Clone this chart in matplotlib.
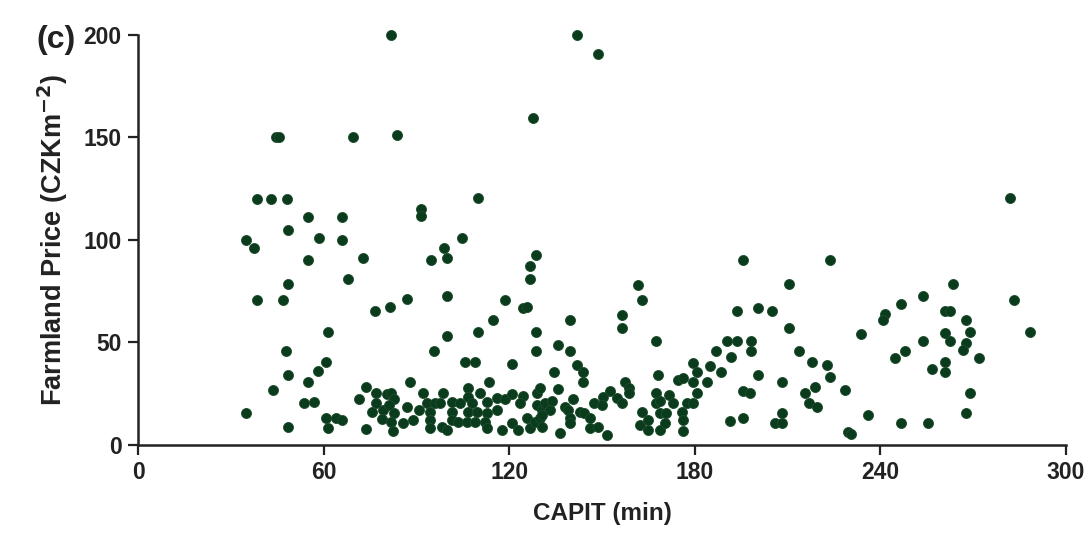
import matplotlib.pyplot as plt

plt.rcParams['font.family'] = ['Liberation Sans', 'DejaVu Sans']

# CAPIT (min) and farmland price
capit = [
    44.5, 45.5, 69.4, 38.3, 42.9, 48.1, 54.8, 65.8, 48.5, 34.8,
    37.4, 58.4, 65.8, 54.8, 72.6, 67.8, 48.5, 38.3, 46.8, 76.6,
    61.4, 47.8, 48.5, 60.6, 58.0, 54.8, 43.6, 53.7, 56.9, 34.8,
    60.6, 63.8, 65.8, 61.4, 48.5, 73.5, 73.5, 71.5,
    81.6, 141.8, 148.6, 127.6, 83.6, 109.8, 91.4, 91.4, 104.6, 98.9,
    94.6, 99.9, 128.7, 126.7, 126.7, 99.9, 81.5, 86.8, 118.6, 124.5,
    125.6, 114.6, 139.6, 99.8, 109.8, 128.7, 95.7, 128.7, 135.7, 139.6,
    105.7, 108.9, 120.9, 141.8, 143.9, 143.9, 134.5, 135.7, 87.9, 113.5,
    140.7,
    76.9, 76.9, 75.5, 80.5, 81.6, 79.2, 82.7, 81.2, 82.7, 78.7,
    81.6, 82.5, 85.7, 88.9, 86.8, 90.9, 92.2,
    98.6, 106.7, 110.5, 106.7, 93.3, 96.0, 97.6, 101.4, 104.0, 107.8,
    112.7, 115.9, 118.6, 120.8, 124.3, 123.5, 128.9, 129.9, 94.3, 94.3,
    94.3, 98.1, 99.7, 101.4, 101.4, 103.5, 106.7, 106.2, 109.5, 112.7,
    108.9, 112.1, 112.7, 115.9, 117.5, 120.8, 122.9, 125.6, 126.7, 128.3,
    129.9, 130.5, 128.9, 130.5,
    157.4, 158.8, 158.8, 152.6, 150.4, 147.4, 149.9, 154.8, 156.4, 168.2,
    167.5, 167.5, 168.8, 131.6, 133.7, 133.2, 130.5, 136.4, 138.0, 139.1,
    139.6, 139.6, 142.9, 144.0, 146.1, 146.1, 148.8, 151.5, 162.8, 162.3,
    165.0, 165.0, 168.8, 168.8,
    179.5, 180.8, 184.9, 188.4, 174.7, 176.3, 179.5, 183.9, 180.6, 171.5,
    173.1, 177.4, 179.5, 170.7, 175.8, 176.1, 170.4, 176.1, 191.4, 195.7,
    200.3, 195.7, 197.9, 208.2, 208.2, 206.0,
    195.7, 223.6, 161.7, 162.8, 156.5, 156.5, 193.8, 200.6, 204.9, 210.5,
    210.5, 167.5, 190.4, 193.8, 198.1, 198.1, 186.9, 191.6, 213.8, 218.0,
    222.7, 223.8, 218.9, 215.8, 216.8, 219.5, 228.7, 208.2, 229.7, 230.6,
    282.0, 263.7, 283.4, 288.5, 253.7, 246.7, 241.6, 240.8, 261.0, 262.6,
    233.7, 267.8, 269.1, 261.0, 262.6, 253.7, 267.8, 266.7, 272.1, 248.0,
    244.8, 256.7, 261.0, 261.0, 268.9, 235.9, 246.8, 255.6, 267.8,
]
price = [
    150, 150, 150, 120, 120, 120, 111, 111, 105, 100,
    96, 100.7, 100, 90, 91, 80.7, 78.3, 70.4, 70.4, 65.5,
    55.2, 45.6, 33.8, 40.2, 36.1, 30.6, 26.5, 20.3, 20.9, 15.4,
    12.9, 13.2, 12.1, 8.2, 8.8, 7.5, 28.1, 22.5,
    200, 200, 190.7, 159.7, 151, 120.4, 115, 111.5, 100.7, 95.9,
    90.2, 91, 92.8, 87.1, 80.7, 72.5, 67.3, 71.3, 70.4, 66.5,
    67.3, 60.8, 60.8, 53, 55.2, 55.2, 45.6, 45.6, 48.9, 45.6,
    40.2, 40.2, 39.4, 38.7, 35.5, 30.6, 35.5, 27.3, 30.6, 30.6,
    22.5,
    25.2, 20.6, 16.2, 24.7, 25.2, 17, 22.3, 19.5, 15.7, 12.4,
    11.3, 6.9, 10.8, 12.1, 18.6, 17, 25.2,
    25.2, 27.6, 25.2, 23.5, 20.3, 20.3, 20.3, 21, 20.3, 20.6,
    21, 22.7, 22.2, 24.7, 23.9, 20.3, 25.2, 27.6, 16.2, 12.1,
    8, 8.8, 7.2, 16.2, 12.1, 11.3, 16.2, 11.3, 16.2, 15.4,
    11.3, 11.3, 8, 17, 7.2, 10.5, 7.2, 12.9, 8, 11.3,
    12.9, 8.8, 19.5, 17,
    30.4, 27.6, 25.2, 26, 23.2, 20.6, 19.5, 22.7, 20.3, 34.2,
    25.2, 20.3, 21.1, 20.3, 21.1, 17, 14.6, 5.6, 18.6, 17,
    12.9, 10.5, 16.2, 15.4, 12.9, 8, 8.8, 4.8, 16.2, 9.7,
    12.1, 7.2, 15.4, 7.2,
    39.9, 35.3, 38.6, 35.3, 31.7, 32.5, 30.4, 30.4, 25.2, 24.4,
    20.6, 20.6, 20.3, 15.4, 16.2, 12.1, 10.8, 6.9, 11.8, 12.9,
    34.2, 26, 25.2, 30.4, 15.4, 10.5,
    90.2, 90.2, 77.8, 70.6, 63.2, 56.9, 65.5, 66.5, 65.5, 78.3,
    56.9, 50.5, 50.5, 50.5, 50.5, 45.6, 45.6, 42.8, 45.6, 40.2,
    38.7, 33, 28.1, 25.2, 20.3, 18.6, 26.8, 10.8, 6.4, 5.2,
    120.4, 78.3, 70.4, 55.1, 72.7, 68.8, 63.6, 60.8, 65.5, 65.5,
    53.8, 60.8, 55.2, 54.6, 50.5, 50.5, 49.7, 46.4, 42.5, 45.6,
    42.5, 36.8, 40.2, 35.3, 25, 14.6, 10.5, 10.5, 15.4,
]
x_ticks = [0, 60, 120, 180, 240, 300]
y_ticks = [0, 50, 100, 150, 200]

fig = plt.figure(figsize=(10.92, 5.41), dpi=100)
ax = fig.add_axes([0.1268, 0.178, 0.8491, 0.7573])

ax.scatter(capit, price, s=52, color='#0a3b1d', edgecolors='#1d4d2c',
           linewidths=0.6, clip_on=False, zorder=3)

ax.set_xlim(0, 300)
ax.set_ylim(0, 200)
ax.set_xticks(x_ticks)
ax.set_yticks(y_ticks)
for side in ['top', 'right']:
    ax.spines[side].set_visible(False)
for side in ['left', 'bottom']:
    ax.spines[side].set_linewidth(1.8)
    ax.spines[side].set_color('#222222')
ax.tick_params(direction='out', length=7, width=1.6, color='#222222',
               labelsize=16.5, labelcolor='#222222', pad=5)
for lab in ax.get_xticklabels() + ax.get_yticklabels():
    lab.set_fontweight('bold')

ax.set_xlabel('CAPIT (min)', fontsize=17.5, fontweight='bold', color='#222222', labelpad=13)
ax.set_ylabel(r'Farmland Price (CZKm$^{\mathbf{-2}}$)', fontsize=19.5, fontweight='bold',
              color='#222222', labelpad=10)
fig.text(0.033, 0.912, '(c)', fontsize=23, fontweight='bold', color='#222222')

fig.savefig('out.png', dpi=100)
